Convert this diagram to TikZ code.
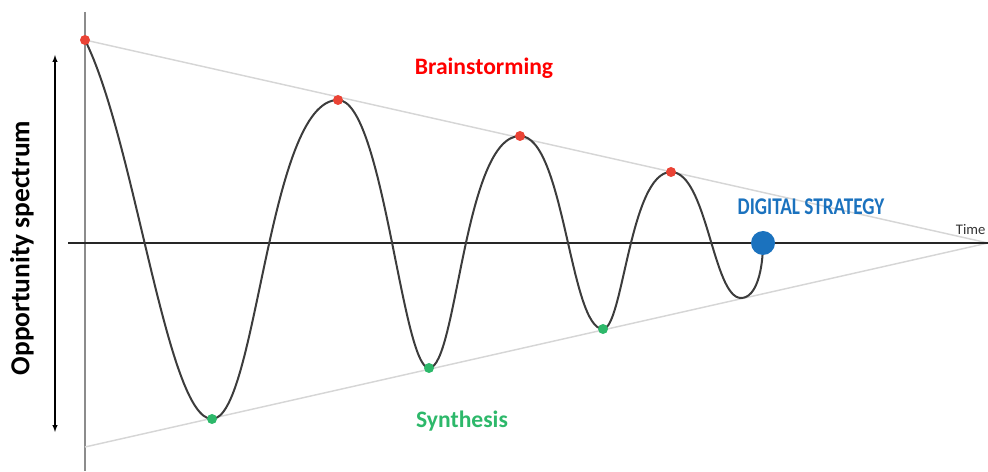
\documentclass[tikz,border=0pt]{standalone}
\usepackage{fontspec}
\setmainfont{Carlito}
\newfontfamily\condfont[FakeStretch=0.80]{Carlito}
\definecolor{peakred}{HTML}{EA4335}
\definecolor{troughgreen}{HTML}{2DB86A}
\definecolor{strategyblue}{HTML}{1B72BE}
\definecolor{guidegray}{HTML}{D6D6D6}
\definecolor{axisgray}{HTML}{8C8C8C}
\definecolor{wavegray}{HTML}{3C3C3C}
\begin{document}
\begin{tikzpicture}[x=0.75pt, y=0.75pt,
    >=latex,
    peak/.style={circle, fill=peakred, minimum size=7.5pt, inner sep=0pt},
    trough/.style={circle, fill=troughgreen, minimum size=7.5pt, inner sep=0pt},
    guide/.style={draw=guidegray, line width=1.1pt},
    wave/.style={draw=wavegray, line width=1.5pt},
    label/.style={font=\fontsize{17.7}{20}\selectfont\bfseries}]

  \useasboundingbox (0,0) rectangle (988,471);

  % axes and funnel
  \coordinate (ytop) at (85,459);
  \coordinate (ybot) at (85,0);
  \coordinate (xl) at (68,228);
  \coordinate (xr) at (988,228);
  \coordinate (ftop) at (85,431);
  \coordinate (fbot) at (85,24);

  \draw[axisgray, line width=1.5pt] (ytop) -- (ybot);
  \draw[guide] (ftop) -- (xr);
  \draw[guide] (fbot) -- (xr);
  \draw[black!85, line width=1.5pt] (xl) -- (xr);

  % wave
  \coordinate (p0) at (85,431);
  \coordinate (t1) at (212,52);
  \coordinate (p1) at (338,371);
  \coordinate (t2) at (429,103);
  \coordinate (p2) at (520,335);
  \coordinate (t3) at (603,142);
  \coordinate (p3) at (671,299);
  \coordinate (t4) at (741,173);
  \coordinate (end) at (763,228);

  \draw[wave] (p0) .. controls +(50,-100) and +(-45,0) .. (t1)
    .. controls +(45,0) and +(-70,0) .. (p1)
    .. controls +(45,0) and +(-27,0) .. (t2)
    .. controls +(28,0) and +(-56,0) .. (p2)
    .. controls +(44,0) and +(-33,0) .. (t3)
    .. controls +(20,0) and +(-41,0) .. (p3)
    .. controls +(36,0) and +(-28,0) .. (t4)
    .. controls +(16,0) and +(0,-25) .. (end);

  \node[peak] (n0) at (p0) {};
  \node[peak] (n1) at (p1) {};
  \node[peak] (n2) at (p2) {};
  \node[peak] (n3) at (p3) {};
  \node[trough] (m1) at (t1) {};
  \node[trough] (m2) at (t2) {};
  \node[trough] (m3) at (t3) {};
  \node[circle, fill=strategyblue, minimum size=18pt, inner sep=0pt] (goal) at (end) {};

  % labels
  \node[label, text=red] (brain) at (484,403) {Brainstorming};
  \node[label, text=troughgreen] (synth) at (462,50) {Synthesis};
  \node[text=strategyblue, font=\fontsize{18}{20}\condfont\bfseries] (strat) at (811,264) {DIGITAL STRATEGY};
  \node[text=black!80, font=\fontsize{11}{13}\selectfont, anchor=south east, inner sep=1pt] (time) at (987,235) {Time};

  \node[font=\fontsize{20.6}{22}\selectfont\bfseries, rotate=90] (opp) at (22,223) {Opportunity spectrum};
  \coordinate (atop) at (55,416);
  \coordinate (abot) at (55,39);
  \draw[<->, line width=0.8pt] (abot) -- (atop);
\end{tikzpicture}
\end{document}
